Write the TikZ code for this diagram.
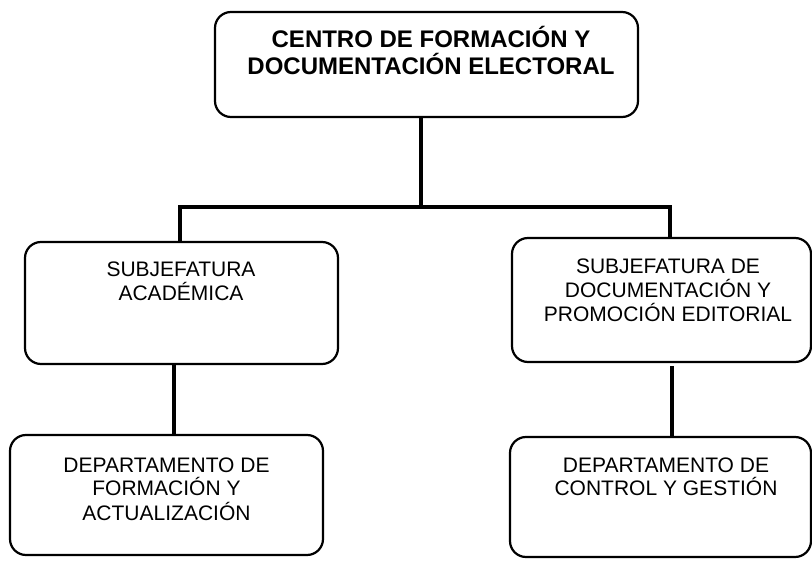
\documentclass[tikz,border=0pt]{standalone}
\usepackage{fontspec}
\setmainfont{Liberation Sans}
\newcommand\sline[1]{\smash{#1}}
\begin{document}
\begin{tikzpicture}[x=1pt,y=-1pt,
  box/.style={draw, line width=2.2pt, rounded corners=16pt, inner sep=0pt},
  conn/.style={line width=3.5pt},
  lbl/.style={anchor=base, inner sep=0pt, font=\fontsize{21}{24}\selectfont},
  tlbl/.style={anchor=base, inner sep=0pt, font=\fontsize{24}{27}\selectfont\bfseries}]
\fill[white] (0,0) rectangle (812,561);
\useasboundingbox (0,0) rectangle (812,561);

% boxes
\node[box, minimum width=423pt, minimum height=105pt] (top) at (426.5,64.5) {};
\node[box, minimum width=313pt, minimum height=122pt] (ml) at (181.5,303) {};
\node[box, minimum width=299pt, minimum height=124pt] (mr) at (661.5,300) {};
\node[box, minimum width=313pt, minimum height=120pt] (bl) at (166.5,495) {};
\node[box, minimum width=301pt, minimum height=120pt] (br) at (660.5,497) {};

% texts
\node[tlbl] (ttop) at (431,48) {\begin{tabular}[t]{@{}c@{}}\sline{CENTRO DE FORMACIÓN Y}\\\sline{DOCUMENTACIÓN ELECTORAL}\end{tabular}};
\node[lbl] (tml) at (181,277) {\begin{tabular}[t]{@{}c@{}}\sline{SUBJEFATURA}\\\sline{ACADÉMICA}\end{tabular}};
\node[lbl] (tmr) at (668,274) {\begin{tabular}[t]{@{}c@{}}\sline{SUBJEFATURA DE}\\\sline{DOCUMENTACIÓN Y}\\\sline{PROMOCIÓN EDITORIAL}\end{tabular}};
\node[lbl] (tbl) at (166.5,472) {\begin{tabular}[t]{@{}c@{}}\sline{DEPARTAMENTO DE}\\\sline{FORMACIÓN Y}\\\sline{ACTUALIZACIÓN}\end{tabular}};
\node[lbl] (tbr) at (666,472) {\begin{tabular}[t]{@{}c@{}}\sline{DEPARTAMENTO DE}\\\sline{CONTROL Y GESTIÓN}\end{tabular}};

% connectors
\coordinate (j) at (421,207);
\coordinate (jl) at (180,207);
\coordinate (jr) at (670,207);
\coordinate (cl) at (174,400);
\coordinate (cr) at (672,400);
\draw[conn] (top.south -| j) -- (j);
\draw[conn] (ml.north -| jl) -- (jl) -- (jr) -- (mr.north -| jr);
\draw[conn] (ml.south -| cl) -- (bl.north -| cl);
\draw[conn, shorten <=3pt] (mr.south -| cr) -- (br.north -| cr);
\end{tikzpicture}
\end{document}
